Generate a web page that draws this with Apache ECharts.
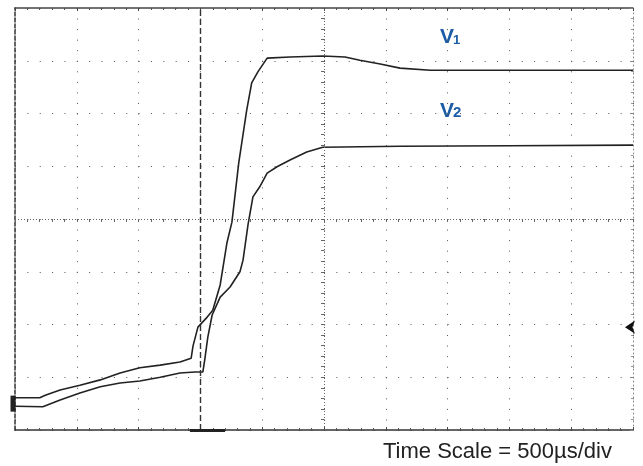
<!DOCTYPE html>
<html>
<head>
<meta charset="utf-8">
<script src="https://cdn.jsdelivr.net/npm/echarts@6/dist/echarts.min.js"></script>
<style>html,body{margin:0;padding:0;background:#fff}#c{width:643px;height:466px}</style>
</head>
<body>
<div id="c"></div>
<script>
// time in divisions (500 µs/div), voltage in divisions
const v1Time = [0, 0.40, 0.49, 0.73, 1.05, 1.38, 1.70, 2.02, 2.35, 2.67, 2.85, 2.88, 2.96, 3.11, 3.20, 3.32, 3.43, 3.51, 3.62, 3.75, 3.83, 3.93, 4.08, 4.45, 4.98, 5.34, 5.58, 5.91, 6.23, 6.72, 8.0, 10];
const v1Vals = [0.61, 0.61, 0.66, 0.76, 0.85, 0.95, 1.08, 1.18, 1.23, 1.29, 1.36, 1.59, 1.95, 2.14, 2.27, 2.75, 3.55, 3.94, 5.06, 6.07, 6.58, 6.79, 7.05, 7.07, 7.09, 7.07, 7.01, 6.94, 6.86, 6.82, 6.82, 6.82];
const v2Time = [0, 0.45, 0.73, 1.05, 1.38, 1.70, 2.02, 2.35, 2.67, 2.91, 3.04, 3.07, 3.12, 3.19, 3.32, 3.48, 3.64, 3.69, 3.77, 3.85, 3.96, 4.08, 4.24, 4.45, 4.72, 4.98, 6.23, 8.0, 10];
const v2Vals = [0.45, 0.44, 0.57, 0.70, 0.82, 0.89, 0.93, 1.00, 1.08, 1.10, 1.10, 1.33, 1.76, 2.18, 2.52, 2.71, 3.00, 3.22, 3.89, 4.42, 4.61, 4.87, 4.99, 5.12, 5.27, 5.36, 5.38, 5.39, 5.40];
const seriesNames = ['V1', 'V2'];
const xDivs = 10, yDivs = 8;
const triggerTime = 3;
const triggerLevel = [9.87, 1.95];
const caption = 'Time Scale = 500µs/div';

const pairs = (t, v) => t.map((x, i) => [x, v[i]]);
const chart = echarts.init(document.getElementById('c'), null, {renderer: 'canvas'});
const baseAxis = {min: 0, interval: 1, axisLabel: {show: false}, splitLine: {show: false}, axisTick: {show: false}};
chart.setOption({
  animation: false,
  backgroundColor: '#fff',
  grid: {left: 15, right: 10, top: 8, bottom: 36},
  xAxis: [
    Object.assign({}, baseAxis, {type: 'value', max: xDivs, position: 'bottom',
      axisLine: {show: true, onZero: false, lineStyle: {color: '#333', width: 1.5}},
      axisTick: {show: true, inside: true, length: 3, lineStyle: {color: '#444'}},
      minorTick: {show: true, splitNumber: 5, length: 2, lineStyle: {color: '#555'}},
      splitLine: {show: true, lineStyle: {color: '#555', width: 1, type: [1, 9.55]}}}),
    Object.assign({}, baseAxis, {type: 'value', max: xDivs, position: 'top',
      axisLine: {show: true, onZero: false, lineStyle: {color: '#444', width: 1.5}},
      axisTick: {show: true, inside: true, length: 3, lineStyle: {color: '#444'}},
      minorTick: {show: true, splitNumber: 5, length: 2, lineStyle: {color: '#555'}}}),
    Object.assign({}, baseAxis, {type: 'value', max: xDivs, position: 'bottom', offset: -211,
      axisLine: {show: false, onZero: false}, interval: 0.2,
      axisTick: {show: true, length: 3, lineStyle: {color: '#666'}}})
  ],
  yAxis: [
    Object.assign({}, baseAxis, {type: 'value', max: yDivs, position: 'left',
      axisLine: {show: true, onZero: false, lineStyle: {color: '#333', width: 1.5, type: [4, 2]}},
      splitLine: {show: true, lineStyle: {color: '#555', width: 1, type: [1, 11.36]}}}),
    Object.assign({}, baseAxis, {type: 'value', max: yDivs, position: 'right',
      axisLine: {show: true, onZero: false, lineStyle: {color: '#888', width: 1, type: [1, 3]}},
      axisTick: {show: true, inside: true, length: 3, lineStyle: {color: '#888'}},
      minorTick: {show: true, splitNumber: 5, length: 2, lineStyle: {color: '#999'}}}),
    Object.assign({}, baseAxis, {type: 'value', max: yDivs, position: 'left', offset: -309,
      axisLine: {show: false, onZero: false}, interval: 0.2,
      axisTick: {show: true, length: 3, lineStyle: {color: '#666'}}})
  ],
  series: [
    {
      name: seriesNames[0], type: 'line', showSymbol: false, xAxisIndex: 0, yAxisIndex: 0,
      lineStyle: {color: '#222', width: 1.6}, data: pairs(v1Time, v1Vals),
      markLine: {
        silent: true, symbol: 'none', label: {show: false},
        data: [
          {xAxis: triggerTime, lineStyle: {color: '#333', width: 1.4, type: [6, 3]}},
          {xAxis: xDivs / 2, lineStyle: {color: '#666', width: 1, type: [1, 2]}},
          {yAxis: yDivs / 2, lineStyle: {color: '#666', width: 1, type: [1, 2]}},
          [{coord: [2.83, 0], lineStyle: {color: '#222', width: 3, type: 'solid'}}, {coord: [3.4, 0]}]
        ]
      },
      markPoint: {
        silent: true, label: {show: false},
        data: [
          {coord: [0, 0.5], symbol: 'rect', symbolSize: [5, 16], symbolOffset: [-2, 0], itemStyle: {color: '#222'}},
          {coord: triggerLevel, symbol: 'arrow', symbolRotate: 90, symbolSize: [10, 10], itemStyle: {color: '#111'}}
        ]
      }
    },
    {
      name: seriesNames[1], type: 'line', showSymbol: false, xAxisIndex: 0, yAxisIndex: 0,
      lineStyle: {color: '#222', width: 1.6}, data: pairs(v2Time, v2Vals)
    }
  ],
  graphic: [
    {type: 'text', left: 440, top: 27, style: {text: 'V', fontFamily: 'Liberation Sans, Arial', fontWeight: 'bold', fontSize: 21, fill: '#1a5da6'}},
    {type: 'text', left: 453, top: 34, style: {text: '1', fontFamily: 'Liberation Sans, Arial', fontWeight: 'bold', fontSize: 13, fill: '#1a5da6'}},
    {type: 'text', left: 440, top: 101, style: {text: 'V', fontFamily: 'Liberation Sans, Arial', fontWeight: 'bold', fontSize: 21, fill: '#1a5da6'}},
    {type: 'text', left: 453, top: 105, style: {text: '2', fontFamily: 'Liberation Sans, Arial', fontWeight: 'bold', fontSize: 15, fill: '#1a5da6'}},
    {type: 'text', left: 383, top: 441, style: {text: caption, fontFamily: 'Liberation Sans, Arial', fontSize: 22, fill: '#222'}}
  ]
});
</script>
</body>
</html>
